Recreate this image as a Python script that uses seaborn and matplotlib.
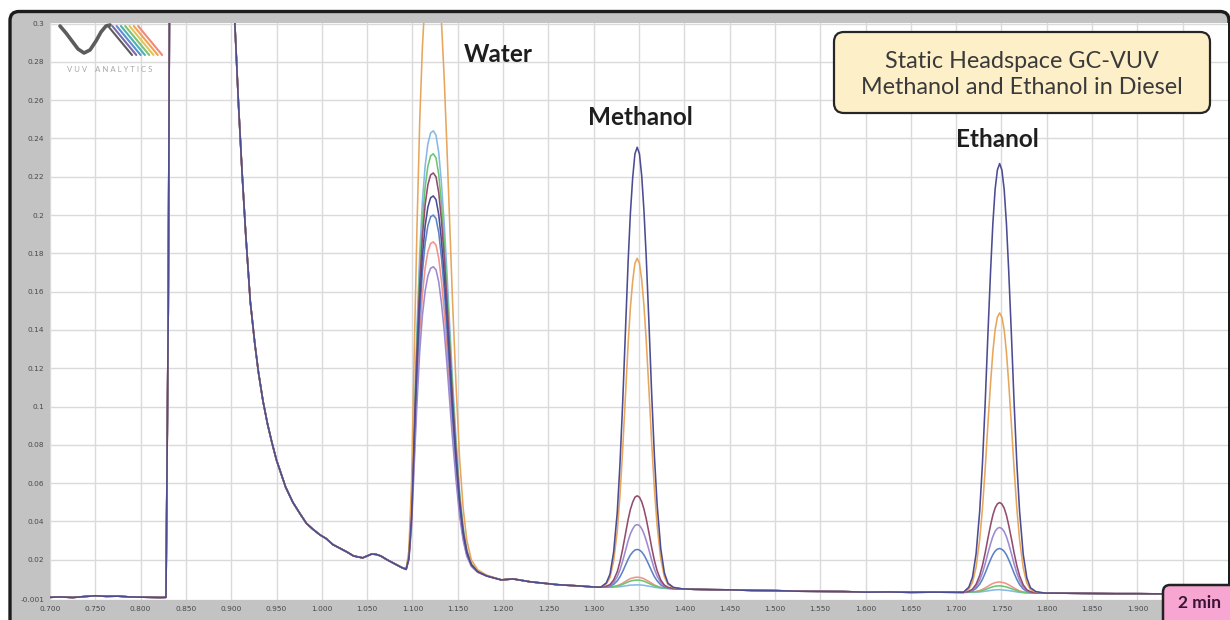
#!/usr/bin/env python3
"""
Static headspace GC-VUV chromatogram overlay: methanol and ethanol in diesel.

Outputs:
  - out.png
"""

import matplotlib.pyplot as plt
import pandas as pd
import seaborn as sns
from matplotlib.lines import Line2D
from matplotlib.patches import FancyBboxPatch

W, H = 1230, 620

# Samples (one trace each), drawn in this order so the navy trace ends up on top
SAMPLES = ["S7", "S6", "S8", "S5", "S4", "S3", "S2", "S1"]
COLORS = {
    "S1": "#4b4c92",
    "S2": "#e7a65c",
    "S3": "#914c6e",
    "S4": "#9d8ad0",
    "S5": "#5d82c6",
    "S6": "#86b9e6",
    "S7": "#f0938a",
    "S8": "#6dc56f",
}

# Peak heights above the local baseline
WATER_H = {"S1": 0.195, "S2": 0.325, "S3": 0.207, "S4": 0.158,
           "S5": 0.185, "S6": 0.229, "S7": 0.171, "S8": 0.217}
METHANOL_H = {"S1": 0.230, "S2": 0.172, "S3": 0.048, "S4": 0.033,
              "S5": 0.020, "S6": 0.0015, "S7": 0.0055, "S8": 0.0040}
ETHANOL_H = {"S1": 0.224, "S2": 0.146, "S3": 0.047, "S4": 0.034,
             "S5": 0.023, "S6": 0.0015, "S7": 0.0055, "S8": 0.0035}

# Shared solvent front and tail (all traces overlap here), time in min
SOLVENT_T = [0.700, 0.712, 0.725, 0.738, 0.750, 0.762, 0.775, 0.788, 0.800,
             0.812, 0.822, 0.828, 0.8305, 0.833, 0.870, 0.897,
             0.904, 0.908, 0.912, 0.916, 0.921, 0.926, 0.930, 0.935, 0.940,
             0.945, 0.950, 0.955, 0.960, 0.968, 0.976, 0.983, 0.990, 0.998,
             1.005, 1.012, 1.020, 1.028, 1.035, 1.040, 1.045, 1.050, 1.055,
             1.060, 1.065, 1.072, 1.080, 1.088]
SOLVENT_Y = [0.0004, 0.0006, 0.0003, 0.0008, 0.0012, 0.0009, 0.0010, 0.0006, 0.0005,
             0.0004, 0.0003, 0.0004, 0.150, 0.450, 1.600, 0.420,
             0.300, 0.258, 0.222, 0.190, 0.155, 0.133, 0.118, 0.103, 0.091,
             0.081, 0.072, 0.065, 0.058, 0.050, 0.044, 0.039, 0.036, 0.033,
             0.031, 0.028, 0.026, 0.024, 0.022, 0.0215, 0.021, 0.022, 0.023,
             0.0228, 0.022, 0.020, 0.018, 0.016]

# Water peak
WATER_T = [1.093, 1.096, 1.099, 1.102, 1.105, 1.108, 1.111, 1.114, 1.117, 1.120,
           1.123, 1.126, 1.129, 1.132, 1.135, 1.138, 1.141, 1.144, 1.148, 1.152,
           1.156, 1.160, 1.165, 1.172, 1.182, 1.198]
WATER_BG = [0.0150, 0.0150, 0.0150, 0.0150, 0.0150, 0.0150, 0.0150, 0.0150, 0.0150, 0.0150,
            0.0150, 0.0150, 0.0150, 0.0150, 0.0150, 0.0150, 0.0149, 0.0148, 0.0147, 0.0145,
            0.0142, 0.0139, 0.0134, 0.0122, 0.0110, 0.0095]
WATER_SHAPE = [0.0, 0.03, 0.14, 0.35, 0.55, 0.72, 0.84, 0.92, 0.97, 0.995,
               1.0, 0.99, 0.95, 0.88, 0.79, 0.68, 0.56, 0.44, 0.30, 0.18,
               0.10, 0.05, 0.02, 0.008, 0.003, 0.0]

# Baseline between water and methanol
MID_T = [1.211, 1.230, 1.260, 1.285, 1.300]
MID_Y = [0.0100, 0.0085, 0.0070, 0.0063, 0.0058]

# Methanol peak
MEOH_T = [1.308, 1.314, 1.318, 1.322, 1.326, 1.329, 1.332, 1.335, 1.338, 1.3405,
          1.343, 1.3455, 1.348, 1.3505, 1.353, 1.3555, 1.358, 1.361, 1.364, 1.367,
          1.370, 1.374, 1.378, 1.382, 1.388, 1.398]
MEOH_BG = [0.0057, 0.0057, 0.0056, 0.0056, 0.0056, 0.0055, 0.0055, 0.0055, 0.0055, 0.0055,
           0.0054, 0.0054, 0.0054, 0.0054, 0.0054, 0.0054, 0.0053, 0.0053, 0.0053, 0.0052,
           0.0052, 0.0051, 0.0051, 0.0050, 0.0049, 0.0048]
MEOH_SHAPE = [0.0, 0.01, 0.03, 0.08, 0.17, 0.28, 0.42, 0.58, 0.74, 0.85,
              0.93, 0.985, 1.0, 0.985, 0.935, 0.855, 0.75, 0.60, 0.44, 0.30,
              0.19, 0.09, 0.035, 0.012, 0.003, 0.0]

# Baseline between methanol and ethanol
GAP_T = [1.410, 1.430, 1.450, 1.475, 1.500, 1.525, 1.550, 1.575, 1.600,
         1.625, 1.650, 1.675, 1.698]
GAP_Y = [0.0046, 0.0044, 0.0043, 0.0040, 0.0039, 0.0036, 0.0035, 0.0034, 0.0031,
         0.0032, 0.0030, 0.0031, 0.0030]

# Ethanol peak
ETOH_T = [1.708, 1.714, 1.718, 1.722, 1.726, 1.729, 1.732, 1.735, 1.738, 1.7405,
          1.743, 1.7455, 1.748, 1.7505, 1.753, 1.7555, 1.758, 1.761, 1.764, 1.767,
          1.770, 1.774, 1.778, 1.782, 1.788, 1.798]
ETOH_BG = [0.0030, 0.0030, 0.0030, 0.0030, 0.0029, 0.0029, 0.0029, 0.0029, 0.0029, 0.0029,
           0.0029, 0.0029, 0.0029, 0.0028, 0.0028, 0.0028, 0.0028, 0.0028, 0.0028, 0.0028,
           0.0027, 0.0027, 0.0027, 0.0027, 0.0027, 0.0026]
ETOH_SHAPE = [0.0, 0.012, 0.035, 0.09, 0.19, 0.30, 0.44, 0.60, 0.75, 0.86,
              0.94, 0.985, 1.0, 0.985, 0.94, 0.86, 0.75, 0.60, 0.44, 0.30,
              0.19, 0.09, 0.035, 0.012, 0.003, 0.0]

# Tail
TAIL_T = [1.810, 1.830, 1.850, 1.875, 1.900, 1.925, 1.950, 1.975, 2.000]
TAIL_Y = [0.0026, 0.0025, 0.0024, 0.0023, 0.0023, 0.0022, 0.0022, 0.0021, 0.0021]

X_TICKS = [0.700, 0.750, 0.800, 0.850, 0.900, 0.950, 1.000, 1.050, 1.100, 1.150,
           1.200, 1.250, 1.300, 1.350, 1.400, 1.450, 1.500, 1.550, 1.600, 1.650,
           1.700, 1.750, 1.800, 1.850, 1.900, 1.950]
X_LABELS = ["0.700", "0.750", "0.800", "0.850", "0.900", "0.950", "1.000", "1.050",
            "1.100", "1.150", "1.200", "1.250", "1.300", "1.350", "1.400", "1.450",
            "1.500", "1.550", "1.600", "1.650", "1.700", "1.750", "1.800", "1.850",
            "1.900", ""]
Y_TICKS = [-0.001, 0.02, 0.04, 0.06, 0.08, 0.1, 0.12, 0.14, 0.16, 0.18,
           0.2, 0.22, 0.24, 0.26, 0.28, 0.3]
Y_LABELS = ["-0.001", "0.02", "0.04", "0.06", "0.08", "0.1", "0.12", "0.14", "0.16",
            "0.18", "0.2", "0.22", "0.24", "0.26", "0.28", "0.3"]

PEAK_LABELS = [("Water", 1.195, 0.284), ("Methanol", 1.351, 0.251), ("Ethanol", 1.745, 0.2395)]


def build_frame():
    rows = []
    for s in SAMPLES:
        seg = list(zip(SOLVENT_T, SOLVENT_Y))
        seg += [(t, b + WATER_H[s] * f) for t, b, f in zip(WATER_T, WATER_BG, WATER_SHAPE)]
        seg += list(zip(MID_T, MID_Y))
        seg += [(t, b + METHANOL_H[s] * f) for t, b, f in zip(MEOH_T, MEOH_BG, MEOH_SHAPE)]
        seg += list(zip(GAP_T, GAP_Y))
        seg += [(t, b + ETHANOL_H[s] * f) for t, b, f in zip(ETOH_T, ETOH_BG, ETOH_SHAPE)]
        seg += list(zip(TAIL_T, TAIL_Y))
        for t, y in seg:
            rows.append({"sample": s, "time": t, "absorbance": y})
    return pd.DataFrame(rows)


def px(x, y):
    # reference pixel (top-left origin) -> display coords
    return x, H - y


def main():
    sns.set_style("white")
    plt.rcParams["font.family"] = ["Lato", "DejaVu Sans"]

    df = build_frame()

    fig = plt.figure(figsize=(W / 100, H / 100), dpi=100)
    fig.patch.set_facecolor("white")

    # outer gray frame
    frame = FancyBboxPatch((10, -20), 1219, H - 10 + 20 - 1.5,
                           boxstyle="round,pad=0,rounding_size=9",
                           facecolor="#c3c3c3", edgecolor="#1c1c1c", lw=2.4,
                           transform=None, zorder=0)
    fig.add_artist(frame)

    ax = fig.add_axes([50 / W, 20 / H, (1228 - 50) / W, (600 - 23) / H])
    ax.set_facecolor("white")

    sns.lineplot(data=df, x="time", y="absorbance", hue="sample", hue_order=SAMPLES,
                 palette=COLORS, estimator=None, sort=False, legend=False,
                 linewidth=1.15, ax=ax)

    ax.set_xlim(0.7, 2.0)
    ax.set_ylim(-0.001, 0.3003)
    ax.set_xticks(X_TICKS)
    ax.set_xticklabels(X_LABELS)
    ax.set_yticks(Y_TICKS)
    ax.set_yticklabels(Y_LABELS)
    ax.tick_params(axis="both", which="major", direction="out", length=2, width=0.6,
                   color="#777777", labelsize=5.3, labelcolor="#4a4a4a", pad=2)
    for lab in ax.get_xticklabels() + ax.get_yticklabels():
        lab.set_family("DejaVu Sans")
    ax.grid(True, color="#dadada", lw=1.0)
    ax.set_axisbelow(True)
    for sp in ax.spines.values():
        sp.set_visible(False)
    ax.set_xlabel("")
    ax.set_ylabel("")

    for name, x, y in PEAK_LABELS:
        ax.text(x, y, name, ha="center", va="center", fontsize=17.5,
                fontweight="bold", color="#1e1e1e")

    # title box
    tbox = FancyBboxPatch(px(834, 113), 376, 81,
                          boxstyle="round,pad=0,rounding_size=10",
                          facecolor="#fdf0c8", edgecolor="#262626", lw=1.6,
                          transform=None, zorder=5)
    fig.add_artist(tbox)
    fig.text(1022 / W, 1 - 61 / H, "Static Headspace GC-VUV", ha="center", va="center",
             fontsize=16.8, color="#3a3a3a", zorder=6)
    fig.text(1022 / W, 1 - 88 / H, "Methanol and Ethanol in Diesel", ha="center",
             va="center", fontsize=16.8, color="#3a3a3a", zorder=6)

    # "2 min" tag
    tag = FancyBboxPatch(px(1163, 640), 80, 55,
                         boxstyle="round,pad=0,rounding_size=7",
                         facecolor="#f7a6d1", edgecolor="#222222", lw=1.8,
                         transform=None, zorder=5)
    fig.add_artist(tag)
    fig.text(1199 / W, 1 - 603 / H, "2 min", ha="center", va="center", fontsize=12.5,
             fontweight="bold", color="#3a1436", zorder=6)

    # logo
    wave = [(60, 26), (66, 33), (72, 41), (78, 49), (84, 53), (90, 50),
            (96, 41), (101, 32), (106, 26), (110, 25)]
    fig.add_artist(Line2D([p[0] for p in wave], [H - p[1] for p in wave],
                          color="#5c5c5c", lw=2.6, solid_capstyle="round",
                          transform=None, zorder=6))
    stripe_colors = ["#5c5c5c", "#7b69ad", "#5c8ed0", "#49b2b4", "#7ec36f",
                     "#e2c45a", "#f0a258", "#ee8a76"]
    for i, c in enumerate(stripe_colors):
        x0 = 108 + 4.3 * i
        fig.add_artist(Line2D([x0, x0 + 24], [H - 26, H - 55], color=c, lw=1.5,
                              transform=None, zorder=6))
    fig.text(110 / W, 1 - 70 / H, "V U V    A N A L Y T I C S", ha="center", va="center",
             fontsize=5.6, color="#a8a8a8", zorder=6)

    fig.savefig("out.png", dpi=100)
    plt.close(fig)


if __name__ == "__main__":
    main()
